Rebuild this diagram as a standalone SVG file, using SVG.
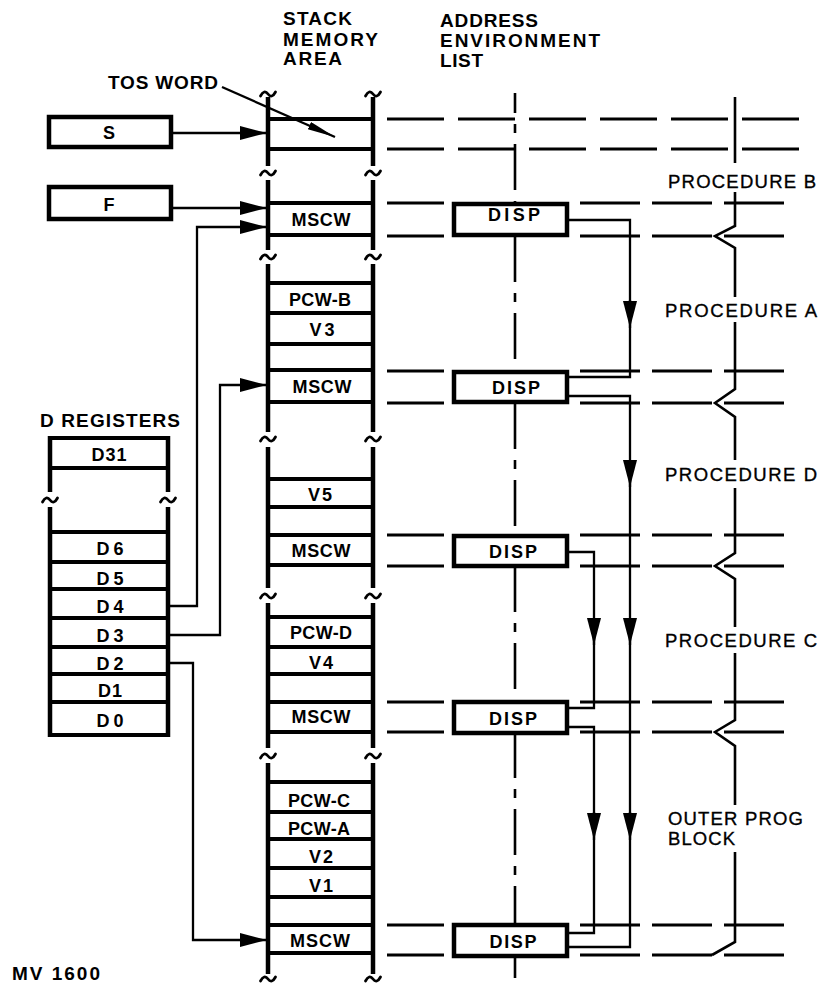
<svg xmlns="http://www.w3.org/2000/svg" width="820" height="1002" viewBox="0 0 820 1002">
<style>
text{font-family:"Liberation Sans",Arial,Helvetica,sans-serif;fill:#000}
.b{font-weight:bold;font-size:18px}
.h{font-weight:bold;font-size:19px}
.p{font-weight:normal;font-size:18.5px;stroke:#000;stroke-width:0.35}
.m{text-anchor:middle}
.rail{stroke:#000;stroke-width:4.5;fill:none}
.cell{stroke:#000;stroke-width:4;fill:none}
.tl{stroke:#000;stroke-width:2.8;fill:none;stroke-linecap:round}
.box{fill:#fff;stroke:#000;stroke-width:4.5}
.dsh{stroke:#000;stroke-width:2.8;fill:none}
.dr{stroke-dasharray:60 12}
.dt{stroke-dasharray:57 14}
.dd{stroke:#000;stroke-width:2.6;fill:none;stroke-dasharray:46 11 9 11}
.conn{stroke:#000;stroke-width:2.3;fill:none}
.pl{stroke:#000;stroke-width:2.6;fill:none}
</style>
<defs>
<marker id="ah" markerUnits="userSpaceOnUse" markerWidth="28" markerHeight="16" refX="27" refY="7" orient="auto"><path d="M0,0 L27,7 L0,14 z" fill="#000"/></marker>
<marker id="at" markerUnits="userSpaceOnUse" markerWidth="30" markerHeight="10" refX="28" refY="4" orient="auto"><path d="M0,0 L28,4 L0,8 z" fill="#000"/></marker>
<path id="tl" d="M-7.5,2 Q-3.75,-5 0,0 T7.5,-2"/>
</defs>

<!-- headers -->
<g id="headers">
<text class="h" x="283" y="25" textLength="69" lengthAdjust="spacing">STACK</text>
<text class="h" x="283" y="46" textLength="95" lengthAdjust="spacing">MEMORY</text>
<text class="h" x="283" y="65" textLength="59" lengthAdjust="spacing">AREA</text>
<text class="h" x="440" y="27" textLength="98" lengthAdjust="spacing">ADDRESS</text>
<text class="h" x="440" y="47" textLength="160" lengthAdjust="spacing">ENVIRONMENT</text>
<text class="h" x="440" y="67" textLength="43" lengthAdjust="spacing">LIST</text>
<text class="h" x="108" y="89" textLength="110" lengthAdjust="spacing">TOS WORD</text>
<text class="h" x="40" y="427" textLength="140" lengthAdjust="spacing">D REGISTERS</text>
<text class="h" x="12" y="980" textLength="88" lengthAdjust="spacing">MV 1600</text>
</g>

<!-- procedure labels -->
<g id="procedure-labels">
<text class="p" x="668" y="188" textLength="148" lengthAdjust="spacing">PROCEDURE B</text>
<text class="p" x="665" y="317" textLength="152" lengthAdjust="spacing">PROCEDURE A</text>
<text class="p" x="665" y="481" textLength="152" lengthAdjust="spacing">PROCEDURE D</text>
<text class="p" x="665" y="647" textLength="152" lengthAdjust="spacing">PROCEDURE C</text>
<text class="p" x="668" y="825" textLength="135" lengthAdjust="spacing">OUTER PROG</text>
<text class="p" x="668" y="845" textLength="67" lengthAdjust="spacing">BLOCK</text>
</g>

<!-- dashed level lines -->
<g id="level-lines">
<path class="dsh dt" d="M387,119 H800 M387,149 H800"/>
<path class="dsh" d="M387,203 H444 M387,236 H444"/>
<path class="dsh dr" d="M580,203 H784 M580,236 H784"/>
<path class="dsh" d="M387,371 H444 M387,403 H444"/>
<path class="dsh dr" d="M580,371 H784 M580,403 H784"/>
<path class="dsh" d="M387,535 H444 M387,566 H444"/>
<path class="dsh dr" d="M580,535 H784 M580,566 H784"/>
<path class="dsh" d="M387,702 H444 M387,732 H444"/>
<path class="dsh dr" d="M580,702 H784 M580,732 H784"/>
<path class="dsh" d="M387,925 H444 M387,955 H444"/>
<path class="dsh dr" d="M580,925 H784 M580,955 H784"/>
</g>

<!-- address environment list axis -->
<g id="ael-axis">
<path class="dd" stroke-dashoffset="26" d="M515,93 V203"/>
<path class="dd" d="M515,236 V371"/>
<path class="dd" d="M515,403 V535"/>
<path class="dd" d="M515,566 V702"/>
<path class="dd" d="M515,732 V925"/>
<path class="dd" d="M515,955 V978"/>
</g>

<!-- procedure boundary line -->
<g id="boundary">
<path class="pl" d="M735,97 V163 M735,192 V226 L715,236 L735,248 V297 M735,322 V389 L715,403 L735,417 V460 M735,488 V553 L715,566 L735,579 V627 M735,653 V720 L715,732 L735,746 V805 M735,852 V942 L712,955"/>
</g>

<!-- stack memory area -->
<g id="stack">
<path class="rail" d="M268,97 V166 M373,97 V166 M268,180 V250 M373,180 V250 M268,264 V432 M373,264 V432 M268,447 V588 M373,447 V588 M268,603 V748 M373,603 V748 M268,763 V974 M373,763 V974"/>
<path class="cell" d="M268,119 H373 M268,149 H373 M268,203 H373 M268,235 H373 M268,283 H373 M268,313 H373 M268,344 H373 M268,370 H373 M268,402 H373 M268,479 H373 M268,507 H373 M268,535 H373 M268,565 H373 M268,617 H373 M268,647 H373 M268,674 H373 M268,702 H373 M268,732 H373 M268,782 H373 M268,812 H373 M268,839 H373 M268,868 H373 M268,897 H373 M268,925 H373 M268,953 H373"/>
<g class="tl">
<use href="#tl" x="268" y="94"/><use href="#tl" x="373" y="94"/>
<use href="#tl" x="268" y="173"/><use href="#tl" x="373" y="173"/>
<use href="#tl" x="268" y="257"/><use href="#tl" x="373" y="257"/>
<use href="#tl" x="268" y="439"/><use href="#tl" x="373" y="439"/>
<use href="#tl" x="268" y="596"/><use href="#tl" x="373" y="596"/>
<use href="#tl" x="268" y="756"/><use href="#tl" x="373" y="756"/>
<use href="#tl" x="268" y="979"/><use href="#tl" x="373" y="979"/>
</g>
<g class="b m">
<text x="321" y="226" textLength="59" lengthAdjust="spacing">MSCW</text>
<text x="320" y="306" textLength="62" lengthAdjust="spacing">PCW-B</text>
<text x="322" y="336" textLength="25" lengthAdjust="spacing">V3</text>
<text x="322" y="393" textLength="59" lengthAdjust="spacing">MSCW</text>
<text x="320" y="501" textLength="24" lengthAdjust="spacing">V5</text>
<text x="321" y="557" textLength="59" lengthAdjust="spacing">MSCW</text>
<text x="321" y="639" textLength="62" lengthAdjust="spacing">PCW-D</text>
<text x="321" y="669" textLength="24" lengthAdjust="spacing">V4</text>
<text x="321" y="723" textLength="59" lengthAdjust="spacing">MSCW</text>
<text x="319" y="807" textLength="62" lengthAdjust="spacing">PCW-C</text>
<text x="319" y="835" textLength="62" lengthAdjust="spacing">PCW-A</text>
<text x="321" y="863" textLength="24" lengthAdjust="spacing">V2</text>
<text x="321" y="892" textLength="24" lengthAdjust="spacing">V1</text>
<text x="320" y="947" textLength="60" lengthAdjust="spacing">MSCW</text>
</g>
</g>

<!-- D registers -->
<g id="d-registers">
<path class="rail" d="M50,436 V492 M168,436 V492 M50,507 V737 M168,507 V737"/>
<path class="cell" d="M50,438 H168 M50,468 H168 M50,532 H168 M50,562 H168 M50,589 H168 M50,618 H168 M50,647 H168 M50,674 H168 M50,702 H168 M50,735 H168"/>
<g class="tl"><use href="#tl" x="50" y="500"/><use href="#tl" x="168" y="500"/></g>
<g class="b m">
<text x="109" y="461" textLength="35" lengthAdjust="spacing">D31</text>
<text x="110" y="555" textLength="27" lengthAdjust="spacing">D6</text>
<text x="110" y="585" textLength="27" lengthAdjust="spacing">D5</text>
<text x="110" y="613" textLength="27" lengthAdjust="spacing">D4</text>
<text x="110" y="642" textLength="27" lengthAdjust="spacing">D3</text>
<text x="110" y="670" textLength="27" lengthAdjust="spacing">D2</text>
<text x="110" y="697" textLength="24" lengthAdjust="spacing">D1</text>
<text x="110" y="727" textLength="27" lengthAdjust="spacing">D0</text>
</g>
</g>

<!-- S and F registers -->
<g id="reg-S"><rect class="box" x="49" y="117" width="122" height="30"/><text class="b m" x="109" y="139">S</text></g>
<g id="reg-F"><rect class="box" x="49" y="187" width="122" height="32"/><text class="b m" x="109" y="211">F</text></g>

<!-- connectors -->
<g id="connectors">
<path class="conn" d="M222,87 L335,137" marker-end="url(#at)"/>
<path class="conn" d="M171,133 H267" marker-end="url(#ah)"/>
<path class="conn" d="M171,208 H267" marker-end="url(#ah)"/>
<path class="conn" d="M168,606 H197 V227 H267" marker-end="url(#ah)"/>
<path class="conn" d="M168,635 H220 V385 H267" marker-end="url(#ah)"/>
<path class="conn" d="M168,663 H193 V940 H267" marker-end="url(#ah)"/>
<path class="conn" d="M568,220 H630 V377 H568"/>
<path class="conn" d="M568,396 H630 V947 H568"/>
<path class="conn" d="M568,552 H594 V708 H568"/>
<path class="conn" d="M568,727 H594 V933 H568"/>
<path class="conn" d="M630,300 V328" marker-end="url(#ah)"/>
<path class="conn" d="M630,460 V487" marker-end="url(#ah)"/>
<path class="conn" d="M630,618 V645" marker-end="url(#ah)"/>
<path class="conn" d="M630,812 V840" marker-end="url(#ah)"/>
<path class="conn" d="M594,618 V645" marker-end="url(#ah)"/>
<path class="conn" d="M594,812 V840" marker-end="url(#ah)"/>
</g>

<!-- DISP boxes -->
<g id="disp-B"><rect class="box" x="454" y="204" width="113" height="31"/><text class="b m" x="514" y="221" textLength="52" lengthAdjust="spacing">DISP</text></g>
<g id="disp-A"><rect class="box" x="454" y="372" width="113" height="30"/><text class="b m" x="516" y="394" textLength="48" lengthAdjust="spacing">DISP</text></g>
<g id="disp-D"><rect class="box" x="454" y="536" width="113" height="30"/><text class="b m" x="513" y="558" textLength="48" lengthAdjust="spacing">DISP</text></g>
<g id="disp-C"><rect class="box" x="454" y="702" width="113" height="31"/><text class="b m" x="513" y="725" textLength="48" lengthAdjust="spacing">DISP</text></g>
<g id="disp-outer"><rect class="box" x="454" y="925" width="113" height="31"/><text class="b m" x="513" y="948" textLength="47" lengthAdjust="spacing">DISP</text></g>
</svg>
